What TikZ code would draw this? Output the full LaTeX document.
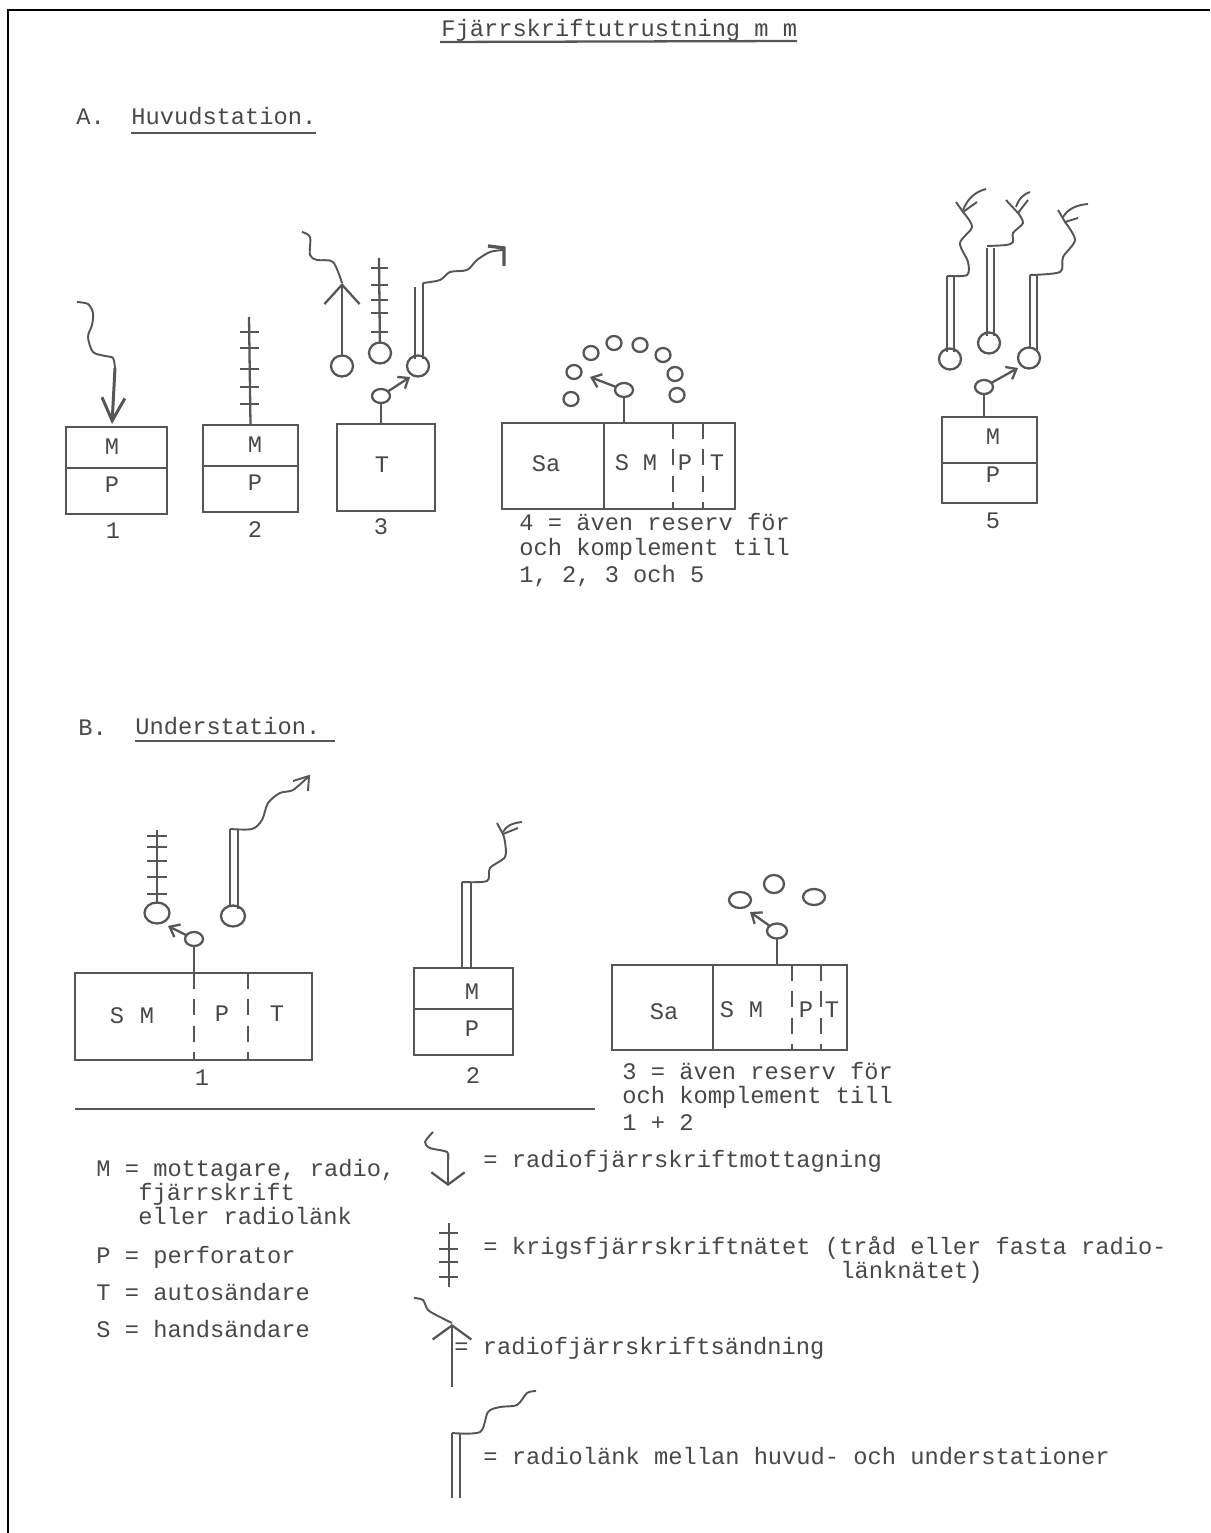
\documentclass[tikz,border=0pt]{standalone}
\usepackage{fontspec}
\setmainfont{Liberation Mono}
\usetikzlibrary{shapes.geometric, arrows.meta, positioning, calc}
\definecolor{ink}{HTML}{565656}
\definecolor{typeink}{HTML}{484848}
\def\pxu{0.02cm}
\tikzset{
  ln/.style={draw=ink, line width=1.3pt},
  wavy/.style={ln, line width=1.1pt},
  txt/.style={inner sep=0pt, text=typeink, anchor=base west, font=\fontsize{13.5pt}{16pt}\selectfont},
  lbl/.style={inner sep=0pt, text=typeink, anchor=center, font=\fontsize{13.5pt}{16pt}\selectfont},
  unitbox/.style={ln, rectangle, inner sep=0pt, outer sep=0pt},
  term/.style={ln, ellipse, inner sep=0pt, outer sep=0pt, minimum width=22*\pxu, minimum height=21*\pxu},
  dot/.style={ln, ellipse, inner sep=0pt, outer sep=0pt, minimum width=15*\pxu, minimum height=14*\pxu},
  wiper/.style={ln, ellipse, inner sep=0pt, outer sep=0pt, minimum width=18*\pxu, minimum height=14*\pxu},
  pointer/.style={ln, -{Straight Barb[length=5pt,width=8pt]}},
  dashline/.style={ln, dash pattern=on 9pt off 6pt}
}
\begin{document}
\begin{tikzpicture}[x=\pxu, y=-\pxu]
  \useasboundingbox (0,0) rectangle (1210,1533);
  % Frame
  \draw[black, line width=1.2pt] (8,1533) -- (8,10) -- (1210,10);

  % Headings
  \node[txt] (title) at (441,37) {Fjärrskriftutrustning m m};
  \coordinate (titlea) at (440,42);
  \coordinate (titleb) at (797,41);
  \draw[ln] (titlea) -- (titleb);
  \node[txt] (hda) at (76,125) {A.};
  \node[txt] (hdb) at (78,735) {B.};
  \node[txt] (huvud) at (131,125) {Huvudstation.};
  \node[txt] (under) at (135,734) {Understation.};
  \coordinate (huvudl) at (131,133);
  \coordinate (underl) at (135,741);
  \draw[ln] (huvudl) -- (316,133);
  \draw[ln] (underl) -- (335,741);

  % A, unit 1
  \node[unitbox, minimum width=101*\pxu, minimum height=87*\pxu] (a1) at (116.5,470.5) {};
  \draw[ln] (a1.west |- 0,468) -- (a1.east |- 0,468);
  \node[lbl] (a1m) at (112,447) {M};
  \node[lbl] (a1p) at (112,485) {P};
  \node[lbl] (a1n) at (113,531) {1};
  \draw[wavy] plot[smooth] coordinates {(77,302) (88,304) (93,313) (92,325) (88,337) (93,352) (105,356) (113,358) (115,368)};
  \coordinate (a1in) at (115,368);
  \draw[ln, line width=1.7pt, -{Straight Barb[length=13pt,width=13pt]}] (a1in) -- (112,424);

  % A, unit 2
  \node[unitbox, minimum width=95*\pxu, minimum height=87*\pxu] (a2) at (250.5,468.5) {};
  \draw[ln] (a2.west |- 0,466) -- (a2.east |- 0,466);
  \node[lbl] (a2m) at (255,445) {M};
  \node[lbl] (a2p) at (255,483) {P};
  \node[lbl] (a2n) at (255,530) {2};
  \coordinate (a2top) at (249,317);
  \draw[ln] (a2top) -- (a2.north);
  \foreach \yy in {332,348,369,387,404}
    \draw[ln] (240,\yy) -- (259,\yy);

  % A, unit 3
  \node[unitbox, minimum width=98*\pxu, minimum height=87*\pxu] (a3) at (386,467.5) {};
  \node[lbl] (a3t) at (382,465) {T};
  \node[lbl] (a3n) at (381,527) {3};
  \node[wiper] (a3sel) at (381,396) {};
  \draw[ln] (a3sel) -- (a3sel |- a3.north);
  \node[term] (a3rx) at (342,366) {};
  \node[term] (a3kr) at (380,353) {};
  \node[term] (a3lk) at (418,366) {};
  \coordinate (a3pt) at (410,377);
  \draw[pointer] (a3sel) -- (a3pt);
  % send arrow
  \coordinate (a3up) at (342,283);
  \draw[ln, -{Straight Barb[length=11pt,width=20pt]}] (a3rx) -- (a3up);
  \draw[wavy] plot[smooth] coordinates {(302,232) (310,237) (310,255) (317,260) (333,262) (342,283)};
  % wire
  \coordinate (a3top) at (379,258);
  \draw[ln] (a3top) -- (a3kr);
  \foreach \yy in {268,285,300,313,332}
    \draw[ln] (371,\yy) -- (388,\yy);
  % link
  \coordinate (a3la) at (415,287);
  \coordinate (a3lb) at (423,283);
  \draw[ln] (a3la) -- (a3la |- a3lk.north west);
  \draw[ln] (a3lb) -- (a3lb |- a3lk.north east);
  \draw[wavy] plot[smooth] coordinates {(423,283) (440,280) (450,272) (467,270) (477,260) (490,252) (503,250)};
  \coordinate (a3ha) at (488,246);
  \coordinate (a3hb) at (504,248);
  \coordinate (a3hc) at (504,266);
  \draw[ln, line width=1.9pt] (a3ha) -- (a3hb) -- (a3hc);

  % A, unit 4
  \node[unitbox, minimum width=233*\pxu, minimum height=86*\pxu] (a4) at (618.5,466) {};
  \draw[ln] (604,0 |- a4.north) -- (604,0 |- a4.south);
  \draw[dashline] (673,0 |- a4.north) -- (673,0 |- a4.south);
  \draw[dashline] (703,0 |- a4.north) -- (703,0 |- a4.south);
  \node[lbl] (a4sa) at (546,464) {Sa};
  \node[lbl] (a4s) at (622,463) {S};
  \node[lbl] (a4m) at (650,463) {M};
  \node[lbl] (a4p) at (685,463) {P};
  \node[lbl] (a4t) at (717,463) {T};
  \node[wiper] (a4sel) at (624,390) {};
  \draw[ln] (a4sel) -- (a4sel |- a4.north);
  \coordinate (a4pt) at (590,377);
  \draw[pointer] (a4sel) -- (a4pt);
  \foreach \xx/\yy [count=\i] in {571/399, 574/372, 591/353, 614/343, 640/345, 663/355, 675/374, 677/395}
    \node[dot] (a4c\i) at (\xx,\yy) {};
  \node[txt] (a4l1) at (519,530) {4 = även reserv för};
  \node[txt] (a4l2) at (519,555) {och komplement till};
  \node[txt] (a4l3) at (519,582) {1, 2, 3 och 5};

  % A, unit 5
  \node[unitbox, minimum width=95*\pxu, minimum height=86*\pxu] (a5) at (989.5,460) {};
  \draw[ln] (a5.west |- 0,463) -- (a5.east |- 0,463);
  \node[lbl] (a5m) at (993,437) {M};
  \node[lbl] (a5p) at (993,475) {P};
  \node[lbl] (a5n) at (993,521) {5};
  \node[wiper] (a5sel) at (984,387) {};
  \draw[ln] (a5sel) -- (a5sel |- a5.north);
  \node[term] (a5a) at (950,359) {};
  \node[term] (a5b) at (989,343) {};
  \node[term] (a5c) at (1029,358) {};
  \coordinate (a5pt) at (1018,368);
  \draw[pointer] (a5sel) -- (a5pt);
  % link a
  \coordinate (a5al) at (947,276);
  \coordinate (a5ar) at (954,276);
  \draw[ln] (a5al) -- (a5al |- a5a.north west);
  \draw[ln] (a5ar) -- (a5ar |- a5a.north east);
  \draw[wavy] plot[smooth] coordinates {(947,276) (967,275) (968,262) (960,243) (972,227) (963,212)};
  \draw[wavy] (956,202) -- (963,212) -- (977,202);
  \draw[wavy] (963,210) .. controls (968,198) and (975,192) .. (986,189);
  % link b
  \coordinate (a5bl) at (987,248);
  \coordinate (a5br) at (994,248);
  \draw[ln] (a5bl) -- (a5bl |- a5b.north west);
  \draw[ln] (a5br) -- (a5br |- a5b.north east);
  \draw[wavy] plot[smooth] coordinates {(987,246) (1006,245) (1013,242) (1013,233) (1023,223) (1018,213)};
  \draw[wavy] (1006,200) -- (1018,213) -- (1028,200);
  \draw[wavy] (1016,207) .. controls (1019,198) and (1024,194) .. (1030,192);
  % link c
  \coordinate (a5cl) at (1030,275);
  \coordinate (a5cr) at (1037,275);
  \draw[ln] (a5cl) -- (a5cl |- a5c.north);
  \draw[ln] (a5cr) -- (a5cr |- a5c.north east);
  \draw[wavy] plot[smooth] coordinates {(1030,275) (1060,272) (1063,257) (1075,240) (1065,222)};
  \draw[wavy] (1058,210) -- (1065,222) -- (1078,218);
  \draw[wavy] (1063,217) .. controls (1068,209) and (1076,205) .. (1088,204);

  % B, unit 1
  \node[unitbox, minimum width=237*\pxu, minimum height=87*\pxu] (b1) at (193.5,1016.5) {};
  \draw[dashline] (194,0 |- b1.north) -- (194,0 |- b1.south);
  \draw[dashline] (248,0 |- b1.north) -- (248,0 |- b1.south);
  \node[lbl] (b1s) at (117,1016) {S};
  \node[lbl] (b1m) at (147,1016) {M};
  \node[lbl] (b1p) at (222,1014) {P};
  \node[lbl] (b1t) at (277,1014) {T};
  \node[lbl] (b1n) at (202,1078) {1};
  \node[wiper] (b1sel) at (194,939) {};
  \draw[ln] (b1sel) -- (b1sel |- b1.north);
  \node[term, minimum width=25*\pxu] (b1kr) at (157,913) {};
  \node[term, minimum width=24*\pxu] (b1lk) at (233,916) {};
  \coordinate (b1pt) at (168,926);
  \draw[pointer] (b1sel) -- (b1pt);
  \coordinate (b1top) at (157,830);
  \draw[ln] (b1top) -- (b1kr);
  \foreach \yy in {836,847,861,877,894}
    \draw[ln] (147,\yy) -- (167,\yy);
  \coordinate (b1la) at (230,829);
  \coordinate (b1lb) at (238,829);
  \draw[ln] (b1la) -- (b1la |- b1lk.north);
  \draw[ln] (b1lb) -- (b1lb |- b1lk.north east);
  \draw[wavy] plot[smooth] coordinates {(230,829) (252,829) (262,820) (268,803) (280,793) (293,790) (308,777)};
  \coordinate (b1ha) at (293,781);
  \coordinate (b1hb) at (309,776);
  \coordinate (b1hc) at (308,791);
  \draw[wavy] (b1ha) -- (b1hb) -- (b1hc);

  % B, unit 2
  \node[unitbox, minimum width=99*\pxu, minimum height=87*\pxu] (b2) at (463.5,1011.5) {};
  \draw[ln] (b2.west |- 0,1009) -- (b2.east |- 0,1009);
  \node[lbl] (b2m) at (472,992) {M};
  \node[lbl] (b2p) at (472,1029) {P};
  \node[lbl] (b2n) at (473,1076) {2};
  \coordinate (b2la) at (462,882);
  \coordinate (b2lb) at (471,882);
  \draw[ln] (b2la) -- (b2la |- b2.north);
  \draw[ln] (b2lb) -- (b2lb |- b2.north);
  \draw[wavy] plot[smooth] coordinates {(462,882) (487,881) (490,868) (505,857) (505,842) (503,834)};
  \draw[wavy] (497,823) -- (503,834) -- (518,828);
  \draw[wavy] (503,832) .. controls (506,826) and (512,823) .. (522,822);

  % B, unit 3
  \node[unitbox, minimum width=235*\pxu, minimum height=85*\pxu] (b3) at (729.5,1007.5) {};
  \draw[ln] (713,0 |- b3.north) -- (713,0 |- b3.south);
  \draw[dashline] (792,0 |- b3.north) -- (792,0 |- b3.south);
  \draw[dashline] (821,0 |- b3.north) -- (821,0 |- b3.south);
  \node[lbl] (b3sa) at (664,1012) {Sa};
  \node[lbl] (b3s) at (727,1010) {S};
  \node[lbl] (b3m) at (756,1010) {M};
  \node[lbl] (b3p) at (806,1010) {P};
  \node[lbl] (b3t) at (832,1010) {T};
  \node[wiper, minimum width=20*\pxu, minimum height=15*\pxu] (b3sel) at (777,931) {};
  \draw[ln] (b3sel) -- (b3sel |- b3.north);
  \coordinate (b3pt) at (750,912);
  \draw[pointer] (b3sel) -- (b3pt);
  \node[dot, minimum width=22*\pxu, minimum height=16*\pxu] (b3a) at (740,900) {};
  \node[dot, minimum width=20*\pxu, minimum height=18*\pxu] (b3b) at (774,884) {};
  \node[dot, minimum width=22*\pxu, minimum height=16*\pxu] (b3c) at (814,897) {};
  \node[txt] (b3l1) at (622,1079) {3 = även reserv för};
  \node[txt] (b3l2) at (622,1103) {och komplement till};
  \node[txt] (b3l3) at (622,1130) {1 + 2};

  % Rule
  \coordinate (rulea) at (75,1109);
  \coordinate (ruleb) at (595,1109);
  \draw[ln] (rulea) -- (ruleb);

  % Legend, letters
  \node[txt] (lgm) at (96,1176) {M = mottagare, radio,};
  \node[txt] (lgma) at (138,1200) {fjärrskrift};
  \node[txt] (lgmb) at (138,1224) {eller radiolänk};
  \node[txt] (lgp) at (96,1263) {P = perforator};
  \node[txt] (lgt) at (96,1300) {T = autosändare};
  \node[txt] (lgs) at (96,1337) {S = handsändare};

  % Legend, symbols
  \draw[wavy] plot[smooth] coordinates {(433,1132) (425,1142) (430,1148) (447,1152) (448,1160)};
  \coordinate (lgrx) at (448,1153);
  \draw[ln, -{Straight Barb[length=7pt,width=19pt]}] (lgrx) -- (448,1186);
  \node[txt] (lgrxt) at (483,1167) {= radiofjärrskriftmottagning};

  \coordinate (lgkr) at (449,1223);
  \draw[ln] (lgkr) -- (449,1287);
  \foreach \yy in {1233,1249,1262,1277}
    \draw[ln] (439,\yy) -- (458,\yy);
  \node[txt] (lgkrt) at (483,1254) {= krigsfjärrskriftnätet (tråd eller fasta radio-};
  \node[txt] (lgkrb) at (840,1278) {länknätet)};

  \coordinate (lgtx) at (452,1387);
  \draw[ln, -{Straight Barb[length=8pt,width=22pt]}] (lgtx) -- (452,1324);
  \draw[wavy] plot[smooth] coordinates {(414,1298) (423,1300) (428,1310) (440,1317) (452,1323)};
  \node[txt] (lgtxt) at (454,1354) {= radiofjärrskriftsändning};

  \coordinate (lgla) at (452,1433);
  \coordinate (lglb) at (460,1433);
  \draw[ln] (lgla) -- (452,1498);
  \draw[ln] (lglb) -- (460,1498);
  \draw[wavy] plot[smooth] coordinates {(452,1433) (480,1432) (488,1412) (500,1407) (517,1405) (527,1393) (536,1391)};
  \node[txt] (lglkt) at (483,1464) {= radiolänk mellan huvud- och understationer};
\end{tikzpicture}
\end{document}
